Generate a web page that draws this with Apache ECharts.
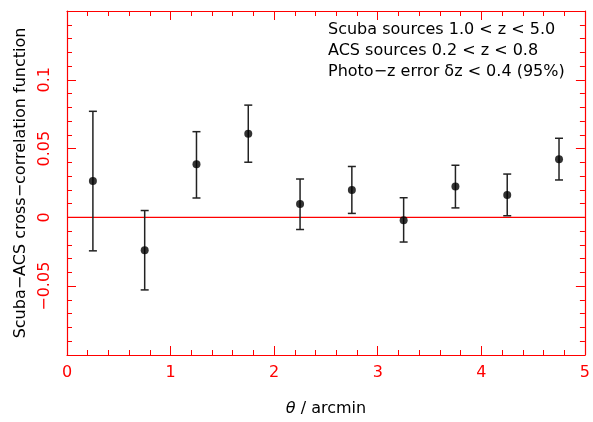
<!DOCTYPE html>
<html>
<head>
<meta charset="utf-8">
<script src="https://cdn.jsdelivr.net/npm/echarts@6/dist/echarts.min.js"></script>
<style>
  html, body { margin: 0; padding: 0; background: #fff; }
  #chart { width: 593px; height: 422px; }
</style>
</head>
<body>
<div id="chart"></div>
<script>
// Scuba-ACS cross-correlation, values
const theta = [0.25, 0.75, 1.25, 1.75, 2.25, 2.75, 3.25, 3.75, 4.25, 4.75];
const xi = [0.0265, -0.0238, 0.0387, 0.0608, 0.0098, 0.0200, -0.0021, 0.0225, 0.0162, 0.0422];
const xiHigh = [0.0771, 0.0050, 0.0623, 0.0816, 0.0279, 0.0370, 0.0143, 0.0379, 0.0315, 0.0575];
const xiLow = [-0.0243, -0.0527, 0.0141, 0.0401, -0.0088, 0.0029, -0.0179, 0.0069, 0.0012, 0.0272];
const noteLines = [
    "Scuba sources 1.0 < z < 5.0",
    "ACS sources 0.2 < z < 0.8",
    "Photo\u2212z error \u03b4z < 0.4 (95%)",
];

const RED = "#ff0000";
const FONT = "DejaVu Sans";

const chart = echarts.init(document.getElementById("chart"), null, { renderer: "canvas" });

function fmtY(v) {
    if (Math.abs(v + 0.1) < 1e-9 || Math.abs(v - 0.15) < 1e-9) return "";
    let s = String(Math.round(v * 100) / 100);
    return s.replace("-", "\u2212");
}

// fresh objects for each axis
function tickStyle() {
    return {
        axisLine: { show: true, onZero: false, lineStyle: { color: RED, width: 1.2, opacity: 1 } },
        axisTick: { show: true, inside: true, length: 9, lineStyle: { color: RED, width: 1 } },
        minorTick: { show: true, splitNumber: 5, length: 5, lineStyle: { color: RED, width: 1 } },
        splitLine: { show: false },
    };
}

const errData = theta.map((t, i) => [t, xiLow[i], xiHigh[i]]);

chart.setOption({
    backgroundColor: "#fff",
    animation: false,
    grid: { left: 67, right: 6, top: 11, bottom: 63, show: false },
    xAxis: [
        Object.assign({
            type: "value", min: 0, max: 5, interval: 1, position: "bottom",
            axisLabel: { color: RED, fontFamily: FONT, fontSize: 16, margin: 10 },
            name: "{i|\u03b8} / arcmin",
            nameLocation: "middle",
            nameGap: 46,
            nameTextStyle: {
                color: "#000", fontFamily: FONT, fontSize: 16,
                rich: { i: { fontStyle: "italic", fontFamily: FONT, fontSize: 16, color: "#000" } },
            },
        }, tickStyle()),
        Object.assign({
            type: "value", min: 0, max: 5, interval: 1, position: "top",
            axisLabel: { show: false },
        }, tickStyle()),
    ],
    yAxis: [
        Object.assign({
            type: "value", min: -0.1, max: 0.15, interval: 0.05, position: "left",
            axisLabel: { color: RED, fontFamily: FONT, fontSize: 16, rotate: 90, margin: 14, formatter: fmtY },
            name: "Scuba\u2212ACS cross\u2212correlation function",
            nameLocation: "middle",
            nameGap: 38,
            nameTextStyle: { color: "#000", fontFamily: FONT, fontSize: 16 },
        }, tickStyle()),
        Object.assign({
            type: "value", min: -0.1, max: 0.15, interval: 0.05, position: "right",
            axisLabel: { show: false },
        }, tickStyle()),
    ],
    graphic: noteLines.map((txt, i) => ({
        type: "text",
        left: 328,
        top: 22 + i * 21,
        style: { text: txt, fill: "#000", font: "16px '" + FONT + "'" },
    })),
    series: [
        {
            type: "line",
            name: "zero",
            data: [[0, 0], [5, 0]],
            showSymbol: false,
            silent: true,
            lineStyle: { color: RED, width: 1.2 },
            itemStyle: { color: RED },
            z: 1,
        },
        {
            type: "custom",
            name: "errors",
            data: errData,
            renderItem: function (params, api) {
                const x = api.value(0);
                const lo = api.coord([x, api.value(1)]);
                const hi = api.coord([x, api.value(2)]);
                const hw = 4;
                const style = { stroke: "#222", lineWidth: 1.5 };
                return {
                    type: "group",
                    children: [
                        { type: "line", shape: { x1: lo[0], y1: lo[1], x2: hi[0], y2: hi[1] }, style },
                        { type: "line", shape: { x1: hi[0] - hw, y1: hi[1], x2: hi[0] + hw, y2: hi[1] }, style },
                        { type: "line", shape: { x1: lo[0] - hw, y1: lo[1], x2: lo[0] + hw, y2: lo[1] }, style },
                    ],
                };
            },
            z: 2,
        },
        {
            type: "scatter",
            name: "xi",
            data: theta.map((t, i) => [t, xi[i]]),
            symbol: "circle",
            symbolSize: 8,
            itemStyle: { color: "#000" },
            z: 3,
        },
    ],
});
</script>
</body>
</html>
